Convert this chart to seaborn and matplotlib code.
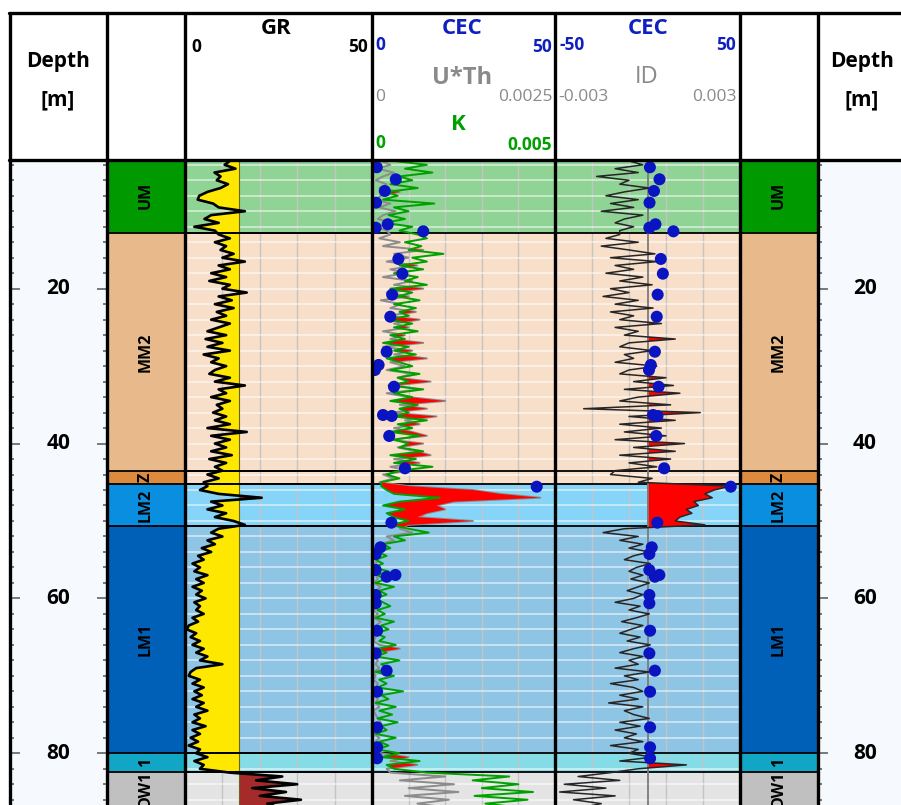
import numpy as np
import matplotlib
matplotlib.use("Agg")
import matplotlib.pyplot as plt
import seaborn as sns

# log samples every 0.5 m
depth = np.arange(3.5, 87.01, 0.5)

gr = [
    # UM
    12.0, 10.6, 13.5, 7.9, 9.5, 8.5, 11.5, 9.5, 6.0, 3.8, 3.4, 7.5, 9.0, 16.0, 7.0, 5.2, 9.0, 2.5, 8.0,
    # MM2
    9, 12, 8, 11, 9.5, 13, 10, 16, 9, 12, 7, 11, 6.5, 12, 10, 16.5, 9, 12.5, 8, 13,
    8.5, 11, 7, 12, 9, 6, 11, 5.5, 10, 6, 12, 5, 9, 7, 11, 8, 6.5, 12, 8, 16,
    9, 11, 7, 12, 8.5, 10, 7.5, 11, 8, 12, 6, 16.5, 7, 12, 8, 11, 7, 12.5, 6.5, 11, 8, 10,
    # Z
    6, 9, 5,
    # LM2
    6, 4, 9, 20.5, 7, 10, 6, 11, 8, 13, 16,
    # LM1
    9, 7, 10, 6, 8, 4.5, 7, 3.5, 5, 2, 4, 2.5, 6, 3, 5, 2, 4.5, 3, 5.5, 2.5,
    4, 3, 5, 2, 3.5, 1, 0.5, 3, 1.5, 4, 2, 5, 3, 6, 4, 10, 3, 1.5, 1, 4,
    2, 5, 2.5, 4.5, 2, 5, 3, 6, 2.5, 4, 2, 5.5, 2, 4, 1.5, 3.5, 1, 4,
    # cyan
    3, 6, 2.5, 5, 4,
    # DW1
    12, 26, 19, 30, 18, 27, 20, 31, 22, 25,
]

# K, x1e-3
k_log = [
    0.60, 1.50, 0.90, 1.65, 0.75, 1.10, 0.50, 1.25, 0.40, 0.70, 0.30, 1.70, 0.60, 1.00, 0.45, 0.90, 0.35, 1.10, 0.75,
    1.25, 1.50, 0.90, 1.35, 1.00, 1.95, 1.10, 1.50, 0.75, 1.40, 0.60, 1.25, 0.90, 1.50, 0.50, 1.10, 0.70, 1.30, 0.60, 1.20,
    0.75, 1.00, 0.40, 1.10, 0.60, 1.25, 0.50, 0.90, 0.30, 1.00, 0.60, 1.20, 0.40, 0.75, 1.10, 0.50, 1.30, 0.70, 1.00, 0.45,
    1.40, 0.60, 1.10, 0.50, 1.25, 0.75, 1.00, 0.60, 1.50, 0.70, 1.10, 0.50, 1.30, 0.60, 1.00, 0.75, 1.40, 0.50, 1.20, 0.60,
    1.65, 0.75,
    0.40, 0.75, 0.25,
    0.25, 0.40, 0.60, 1.85, 0.75, 0.30, 0.90, 0.40, 0.60, 1.00, 0.50,
    1.00, 1.55, 0.60, 0.90, 0.30, 0.50, 0.15, 0.40, 0.10, 0.30, 0.05, 0.45, 0.15, 0.35, 0.10, 0.60, 0.20, 0.40, 0.10, 0.30,
    0.50, 0.15, 0.35, 0.10, 0.60, 0.25, 0.45, 0.10, 0.35, 0.20, 0.65, 0.15, 0.40, 0.10, 0.75, 0.25, 0.50, 0.10, 0.60, 0.20,
    0.40, 0.15, 0.85, 0.25, 0.45, 0.10, 0.65, 0.20, 0.55, 0.15, 0.70, 0.25, 0.40, 0.10, 0.65, 0.20, 0.45, 0.15,
    0.75, 0.25, 1.30, 0.40, 0.60,
    1.50, 3.75, 2.75, 4.00, 3.00, 4.40, 2.80, 4.25, 3.10, 4.00,
]

# U*Th, x1e-3
uth_log = [
    0.12, 0.25, 0.08, 0.30, 0.15, 0.05, 0.20, 0.10, 0.38, 0.12, 0.05, 0.25, 0.10, 0.32, 0.15, 0.08, 0.28, 0.05, 0.20,
    0.25, 0.10, 0.38, 0.15, 0.70, 0.30, 0.50, 0.20, 0.62, 0.25, 0.45, 0.15, 0.55, 0.30, 0.70, 0.20, 0.50, 0.12, 0.40, 0.25,
    0.60, 0.20, 0.65, 0.30, 0.50, 0.15, 0.45, 0.25, 0.70, 0.15, 0.55, 0.30, 0.75, 0.25, 0.45, 0.20, 0.55, 0.35, 0.80, 0.30,
    0.65, 0.20, 0.50, 1.00, 0.38, 0.75, 0.25, 0.88, 0.45, 0.65, 0.30, 0.55, 0.75, 0.25, 0.70, 0.35, 0.60, 0.80, 0.30, 0.65,
    0.25, 0.50,
    0.15, 0.30, 0.10,
    0.50, 1.38, 1.75, 2.30, 1.12, 0.88, 1.00, 0.75, 0.62, 1.38, 0.50,
    0.38, 0.55, 0.20, 0.30, 0.10, 0.05, 0.12, 0.02, 0.08, 0.05, 0.02, 0.10, 0.05, 0.08, 0.02, 0.12, 0.05, 0.08, 0.02, 0.05,
    0.10, 0.02, 0.08, 0.02, 0.12, 0.05, 0.08, 0.02, 0.05, 0.02, 0.10, 0.38, 0.05, 0.02, 0.08, 0.05, 0.10, 0.02, 0.05, 0.02,
    0.08, 0.05, 0.12, 0.02, 0.08, 0.05, 0.10, 0.02, 0.05, 0.08, 0.12, 0.05, 0.08, 0.02, 0.10, 0.05, 0.15, 0.08,
    0.12, 0.50, 0.25, 0.62, 0.20,
    0.25, 1.00, 0.38, 1.12, 0.50, 1.18, 0.45, 1.05, 0.62, 1.00,
]

# ID, x1e-3
id_log = [
    -0.60, -0.15, -1.05, -0.30, -1.65, -0.60, -0.90, 0.06, -0.75, -1.35, -0.30, -1.20, -0.45, -1.50, -0.15, -0.75, -1.05, -0.45, -0.90,
    -0.90, -1.35, -0.30, -1.50, -0.60, 0.24, -1.20, 0.30, -1.05, -0.45, -1.35, -0.15, -0.90, 0.15, -1.20, -0.60, -1.44, -0.30, -1.05, 0.18,
    -1.20, -0.45, -0.90, 0.45, -1.05, -0.30, -0.75, 0.90, -0.60, -0.90, 0.15, -0.75, -0.45, -1.05, 0.30, -0.60, -0.90, 0.60, -0.45, 0.84,
    -0.75, 1.05, -0.30, -0.90, 0.75, -2.07, 1.71, -0.60, 0.90, -0.90, 0.45, -0.75, 0.60, -1.05, 1.20, -0.45, 0.90, -0.90, 0.75, -0.60,
    0.30, -1.05,
    -1.20, 0.15, -0.30,
    2.70, 2.16, 1.86, 2.10, 1.50, 1.65, 1.26, 1.44, 1.05, 0.90, 1.86,
    -0.75, -1.44, -0.30, -0.90, -0.15, -0.60, 0.06, -0.45, -0.75, 0.09, -0.36, -0.60, -0.15, -0.54, 0.06, -0.30, -0.66, -0.15, -0.45, -1.05,
    -0.24, -0.60, 0.06, -0.36, -0.84, -0.15, -0.54, -0.90, -0.24, -0.66, 0.09, -0.45, -0.90, -0.15, -0.60, -0.30, -1.05, 0.06, -0.75, -0.30,
    -1.20, -0.45, -0.15, -0.90, -0.30, -1.26, -0.15, -0.75, -0.45, 0.06, -0.90, -0.24, -1.05, -0.36, -0.75, -0.15, -1.20, -0.30,
    -0.60, 0.15, -0.90, 1.26, -0.30,
    -1.20, -2.25, -0.90, -2.70, -1.35, -2.85, -1.05, -2.40, -1.50, -2.10,
]

# core CEC points
cec_depth = [4.32, 5.87, 7.38, 8.89, 11.68, 12.12, 12.59, 16.16, 18.06, 20.77,
             23.62, 28.14, 29.85, 30.5, 32.66, 36.31, 36.44, 39.02, 43.2, 45.57,
             50.22, 53.4, 54.26, 56.33, 56.97, 57.2, 59.56, 60.63, 64.17, 67.09,
             69.33, 72.05, 76.65, 79.23, 80.65]
cec = [1.3, 6.5, 3.5, 1.1, 4.3, 1.0, 14.0, 7.2, 8.3, 5.5,
       5.0, 4.0, 1.8, 0.8, 6.0, 3.0, 5.4, 4.7, 9.0, 45.0,
       5.3, 2.3, 1.0, 1.0, 6.4, 4.0, 1.0, 1.0, 1.4, 1.0,
       4.0, 1.4, 1.4, 1.4, 1.4]

zone_names = ["UM", "MM2", "Z", "LM2", "LM1", "1", "DW1"]
zone_top = [3.0, 12.81, 43.6, 45.2, 50.65, 79.92, 82.38]
zone_base = [12.81, 43.6, 45.2, 50.65, 79.92, 82.38, 86.68]
zone_colors = ["#009a00", "#e8b98b", "#dc8a3e", "#0a8fe0", "#0060b8", "#12a6c6", "#c0c0c0"]
zone_shades = ["#8fd494", "#f8dfca", "#f8dfca", "#86d4f7", "#8ec4e4", "#86dce6", "#e4e4e4"]

gr_cut = 14.5
depth_top, depth_bot = 3.38, 86.68

gr = np.array(gr)
k_log = np.array(k_log)
uth_log = np.array(uth_log)
id_log = np.array(id_log)

sns.set_theme(style="white")
plt.rcParams["font.family"] = ["Open Sans", "DejaVu Sans"]
plt.rcParams["text.color"] = "black"

W, H = 901, 805
fig = plt.figure(figsize=(W / 100, H / 100), dpi=100)


def box(x0, x1, y0, y1):
    return [x0 / W, 1 - y1 / H, (x1 - x0) / W, (y1 - y0) / H]


def bare(ax, xlim=None):
    ax.set_ylim(depth_bot, depth_top)
    if xlim is not None:
        ax.set_xlim(*xlim)
    ax.tick_params(length=0, labelleft=False, labelbottom=False, labeltop=False)
    ax.set_xlabel("")
    ax.set_ylabel("")
    for s in ax.spines.values():
        s.set_visible(False)


def track_base(ax, xlim, vgrid):
    bare(ax, xlim)
    for t, b, c in zip(zone_top, zone_base, zone_shades):
        ax.axhspan(t, b, color=c, lw=0, zorder=0.2)
    ax.set_xticks(vgrid)
    ax.set_yticks(np.arange(4, 87, 2))
    ax.set_axisbelow(True)
    ax.grid(axis="x", color="#c4c4c4", lw=1.0)
    ax.grid(axis="y", color="white", lw=1.3, alpha=0.55)
    for b in zone_base[:-1]:
        ax.axhline(b, color="black", lw=1.3, zorder=3)


# depth columns
for x0, x1, sides in [(10, 107, (True, True)), (818, 912, (True, False))]:
    ax = fig.add_axes(box(x0, x1, 160, 805))
    ax.set_facecolor("#f6f9fd")
    ax.set_ylim(depth_bot, depth_top)
    ax.set_xlim(0, 1)
    ax.set_yticks([20, 40, 60, 80])
    ax.set_yticks(np.arange(4, 87, 2), minor=True)
    ax.tick_params(axis="y", which="both", direction="in", left=sides[0], right=sides[1],
                   labelleft=False, color="#555555", width=1.1)
    ax.tick_params(axis="y", which="major", length=7.5)
    ax.tick_params(axis="y", which="minor", length=3)
    ax.tick_params(axis="x", length=0, labelbottom=False)
    for s in ax.spines.values():
        s.set_visible(False)
    for d in [20, 40, 60, 80]:
        ax.text(0.5, d, str(d), ha="center", va="center", fontsize=15, fontweight="bold")

# zone columns
for x0, x1 in [(107, 185), (740, 818)]:
    ax = fig.add_axes(box(x0, x1, 160, 805))
    bare(ax, (0, 1))
    for name, t, b, c in zip(zone_names, zone_top, zone_base, zone_colors):
        patch = ax.axhspan(t, b, color=c, lw=0)
        txt = ax.text(0.5, (t + b) / 2, name, rotation=90, ha="center", va="center",
                      fontsize=11.5, fontweight="bold", color="black")
        if name != "DW1":
            txt.set_clip_path(patch)
    for b in zone_base[:-1]:
        ax.axhline(b, color="black", lw=1.3)

# GR track
ax_gr = fig.add_axes(box(185, 372, 160, 805))
track_base(ax_gr, (0, 50), [10, 20, 30, 40])
ax_gr.fill_betweenx(depth, gr, gr_cut, where=gr <= gr_cut, interpolate=True,
                    color="#ffe800", lw=0, zorder=1)
ax_gr.fill_betweenx(depth, gr, gr_cut, where=gr >= gr_cut, interpolate=True,
                    color="#a52a2a", lw=0, zorder=1)
ax_gr.axvline(gr_cut, color="#6b6420", lw=0.8, zorder=1.1)
sns.lineplot(x=gr, y=depth, orient="y", estimator=None, ax=ax_gr, color="black", lw=1.9, zorder=2)
for b in zone_base[:-1]:
    ax_gr.axhline(b, color="black", lw=1.3, zorder=3)
bare(ax_gr, (0, 50))

# CEC / U*Th / K track
ax_t2 = fig.add_axes(box(372, 555, 160, 805))
track_base(ax_t2, (0, 50), [10, 20, 30, 40])
ax_u = ax_t2.twiny()
sns.lineplot(x=uth_log, y=depth, orient="y", estimator=None, ax=ax_u, color="#8c8c8c", lw=1.4)
bare(ax_u, (0, 2.5))
ax_k = ax_t2.twiny()
ax_k.fill_betweenx(depth, k_log, uth_log * 2, where=uth_log * 2 > k_log, interpolate=True,
                   color="#ff0000", lw=0)
sns.lineplot(x=k_log, y=depth, orient="y", estimator=None, ax=ax_k, color="#00a000", lw=1.4)
bare(ax_k, (0, 5))
ax_c2 = ax_t2.twiny()
sns.scatterplot(x=cec, y=cec_depth, ax=ax_c2, color="#0a14c0", s=75, edgecolor="none", zorder=5)
bare(ax_c2, (0, 50))

# CEC / ID track
ax_t3 = fig.add_axes(box(555, 740, 160, 805))
track_base(ax_t3, (-50, 50), [-30, -10, 10, 30])
ax_id = ax_t3.twiny()
ax_id.fill_betweenx(depth, 0, id_log, where=id_log > 0, interpolate=True, color="#ff0000", lw=0)
ax_id.axvline(0, color="#7a7a7a", lw=1.3)
sns.lineplot(x=id_log, y=depth, orient="y", estimator=None, ax=ax_id, color="#262626", lw=1.1)
bare(ax_id, (-3, 3))
ax_c3 = ax_t3.twiny()
sns.scatterplot(x=cec, y=cec_depth, ax=ax_c3, color="#0a14c0", s=75, edgecolor="none", zorder=5)
bare(ax_c3, (-50, 50))

# frame and header
ov = fig.add_axes([0, 0, 1, 1], zorder=10)
ov.set_xlim(0, W)
ov.set_ylim(H, 0)
ov.axis("off")
ov.patch.set_alpha(0)
for x in [10, 107, 185, 372, 555, 740, 818]:
    ov.plot([x, x], [12, H], color="black", lw=2.4, solid_capstyle="butt")
for y in [13, 160]:
    ov.plot([9, W], [y, y], color="black", lw=2.4)

blue, gray, green = "#1020c0", "#8a8a8a", "#00a000"
for cx in [58, 862]:
    ov.text(cx, 62, "Depth", ha="center", va="center", fontsize=15, fontweight="bold")
    ov.text(cx, 100, "[m]", ha="center", va="center", fontsize=15, fontweight="bold")

ov.text(276, 28, "GR", ha="center", va="center", fontsize=16, fontweight="bold")
ov.text(191, 47, "0", ha="left", va="center", fontsize=12.5, fontweight="bold")
ov.text(368, 47, "50", ha="right", va="center", fontsize=12.5, fontweight="bold")

ov.text(462, 28, "CEC", ha="center", va="center", fontsize=16, fontweight="bold", color=blue)
ov.text(375, 45, "0", ha="left", va="center", fontsize=12.5, fontweight="bold", color=blue)
ov.text(552, 47, "50", ha="right", va="center", fontsize=12.5, fontweight="bold", color=blue)
ov.text(462, 78, "U*Th", ha="center", va="center", fontsize=17, fontweight="bold", color=gray)
ov.text(375, 97, "0", ha="left", va="center", fontsize=12.5, color=gray)
ov.text(553, 97, "0.0025", ha="right", va="center", fontsize=12.5, color=gray)
ov.text(458, 125, "K", ha="center", va="center", fontsize=16, fontweight="bold", color=green)
ov.text(375, 143, "0", ha="left", va="center", fontsize=12.5, fontweight="bold", color=green)
ov.text(552, 145, "0.005", ha="right", va="center", fontsize=12.5, fontweight="bold", color=green)

ov.text(648, 28, "CEC", ha="center", va="center", fontsize=16, fontweight="bold", color=blue)
ov.text(559, 45, "-50", ha="left", va="center", fontsize=12.5, fontweight="bold", color=blue)
ov.text(736, 45, "50", ha="right", va="center", fontsize=12.5, fontweight="bold", color=blue)
ov.text(647, 77, "ID", ha="center", va="center", fontsize=17, color=gray)
ov.text(558, 97, "-0.003", ha="left", va="center", fontsize=12.5, color=gray)
ov.text(737, 97, "0.003", ha="right", va="center", fontsize=12.5, color=gray)

fig.savefig("out.png", dpi=100, facecolor="white")
